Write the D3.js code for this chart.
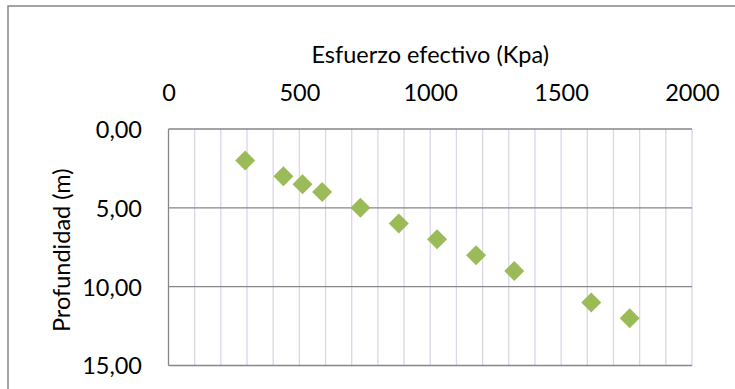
<!DOCTYPE html>
<html><head><meta charset="utf-8">
<script src="https://cdn.jsdelivr.net/npm/d3@7"></script>
<style>body{margin:0;background:#fff;} svg{display:block;}</style>
</head><body>
<svg id="c" width="735" height="389"></svg>
<script>
const esfuerzo = [293, 439, 512, 587, 733, 880, 1026, 1175, 1321, 1615, 1762];
const profundidad = [2, 3, 3.5, 4, 5, 6, 7, 8, 9, 11, 12];
const xTicks = [0, 500, 1000, 1500, 2000];
const yTicks = [0, 5, 10, 15];
const xTitle = "Esfuerzo efectivo (Kpa)";
const yTitle = "Profundidad (m)";

const svg = d3.select("#c");
const font = "Lato, 'Open Sans', sans-serif";
const FS = 23.5;
const L = 168.5, R = 692, T = 129, B = 365.5;
const x = d3.scaleLinear().domain([0, 2000]).range([L, R]);
const y = d3.scaleLinear().domain([0, 15]).range([T, B]);

// outer chart border
svg.append("rect").attr("x", 8).attr("y", 6).attr("width", 740).attr("height", 400)
  .attr("fill", "#fff").attr("stroke", "#868686").attr("stroke-width", 1.5);

// vertical minor gridlines
svg.append("g").selectAll("line").data(d3.range(100, 2001, 100)).join("line")
  .attr("x1", d => x(d)).attr("x2", d => x(d)).attr("y1", T).attr("y2", B)
  .attr("stroke", "#dcd4e8").attr("stroke-width", 1.3);

// horizontal major gridlines
svg.append("g").selectAll("line").data(yTicks).join("line")
  .attr("x1", L).attr("x2", R).attr("y1", d => y(d)).attr("y2", d => y(d))
  .attr("stroke", "#868686").attr("stroke-width", 1.3);

// left axis line
svg.append("line").attr("x1", L).attr("x2", L).attr("y1", T).attr("y2", B)
  .attr("stroke", "#868686").attr("stroke-width", 1.3);

// x axis (top)
const xAxis = d3.axisTop(x).tickValues(xTicks).tickSize(0).tickPadding(0).tickFormat(d3.format("d"));
const gx = svg.append("g").attr("transform", `translate(0,101)`).call(xAxis);
gx.select(".domain").remove();
gx.selectAll("text").attr("font-family", font).attr("font-size", FS).attr("fill", "#000");

// y axis
const yAxis = d3.axisLeft(y).tickValues(yTicks).tickSize(0).tickPadding(0)
  .tickFormat(d => d3.format(".2f")(d).replace(".", ","));
const gy = svg.append("g").attr("transform", `translate(142,0)`).call(yAxis);
gy.select(".domain").remove();
gy.selectAll("text").attr("font-family", font).attr("font-size", FS).attr("fill", "#000").attr("dy", "0.36em");

// titles
svg.append("text").attr("x", (L + R) / 2).attr("y", 63).attr("text-anchor", "middle")
  .attr("font-family", font).attr("font-size", FS).attr("fill", "#000").text(xTitle);
svg.append("text").attr("transform", `translate(70,${(T + B) / 2 + 3}) rotate(-90)`)
  .attr("text-anchor", "middle").attr("font-family", font).attr("font-size", FS).attr("fill", "#000").text(yTitle);

// points
const pts = esfuerzo.map((v, i) => ({ x: v, y: profundidad[i] }));
svg.append("g").selectAll("path").data(pts).join("path")
  .attr("d", d3.symbol().type(d3.symbolSquare).size(200))
  .attr("transform", d => `translate(${x(d.x)},${y(d.y)}) rotate(45)`)
  .attr("fill", "#9bbb59");
</script>
</body></html>
